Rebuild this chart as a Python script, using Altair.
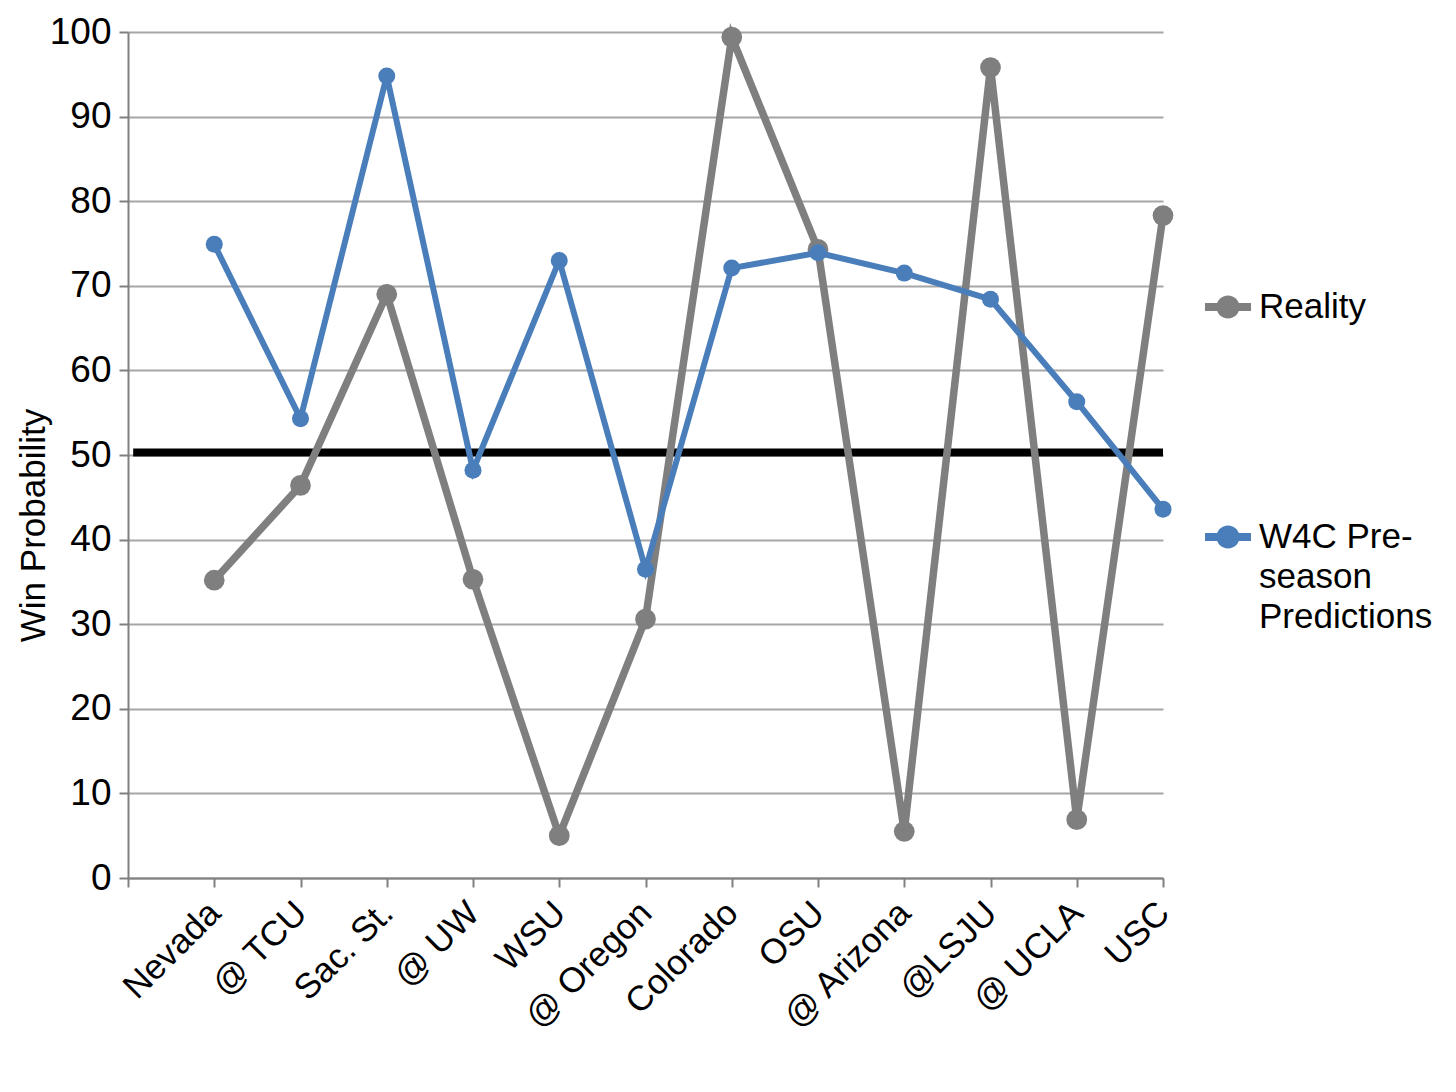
import altair as alt
import pandas as pd

categories = ["Nevada", "@ TCU", "Sac. St.", "@ UW", "WSU", "@ Oregon",
              "Colorado", "OSU", "@ Arizona", "@LSJU", "@ UCLA", "USC"]
reality = [35.2, 46.4, 69.0, 35.3, 5.0, 30.6, 99.4, 74.3, 5.5, 95.8, 6.9, 78.3]
w4c = [74.9, 54.3, 94.8, 48.2, 73.0, 36.5, 72.1, 73.9, 71.5, 68.4, 56.3, 43.6]
series_names = ["Reality", "W4C Pre-season Predictions"]
series_colors = ["#7f7f7f", "#4a7ebb"]
threshold = [50.3]
threshold_span = [0.06, 12]

rows = []
for i, c in enumerate(categories):
    rows.append({"idx": i + 1, "cat": c, "series": series_names[0], "value": reality[i]})
for i, c in enumerate(categories):
    rows.append({"idx": i + 1, "cat": c, "series": series_names[1], "value": w4c[i]})
df = pd.DataFrame(rows)
rule_df = pd.DataFrame({"x": [threshold_span[0]], "x2": [threshold_span[1]], "y": threshold})

label_map = "{" + ", ".join(f"{i+1}: '{c}'" for i, c in enumerate(categories)) + "}"
label_expr = f"({label_map})[datum.value] || ''"

FONT = "Liberation Sans"

xscale = alt.Scale(domain=[0, 12], nice=False, zero=False)
yscale = alt.Scale(domain=[0, 100], nice=False)

xaxis = alt.Axis(values=list(range(0, 13)), labelExpr=label_expr, labelAngle=-45,
                 labelAlign="right", labelBaseline="middle", labelFontSize=35,
                 labelFont=FONT, labelColor="black", labelPadding=20, labelOverlap=False,
                 grid=False, tickSize=9, tickColor="#808080", tickWidth=2,
                 domainColor="#808080", domainWidth=2, title=None)
yaxis = alt.Axis(values=list(range(0, 101, 10)), labelFontSize=37, labelFont=FONT,
                 labelColor="black", labelPadding=8, grid=True, gridColor="#a6a6a6",
                 gridWidth=2, tickSize=9, tickColor="#808080", tickWidth=2,
                 domainColor="#808080", domainWidth=2, title="Win Probability",
                 titleFont=FONT, titleFontSize=35, titleFontWeight="normal",
                 titleColor="black", titleX=-95, titleY=493, titleBaseline="middle",
                 titleAlign="center", titleAngle=270)

color_scale = alt.Scale(domain=series_names, range=series_colors)

sym_path = ("M-1,-0.17 H-0.45 V0.17 H-1 Z M0.45,-0.17 H1 V0.17 H0.45 Z "
            "M0.5,0 A0.5,0.5 0 1,1 -0.5,0 A0.5,0.5 0 1,1 0.5,0 Z")

legend = alt.Legend(title=None, orient="none", legendX=1077, legendY=252,
                    symbolType=sym_path, symbolSize=2116, symbolStrokeWidth=0,
                    labelFont=FONT, labelFontSize=35, labelColor="black",
                    labelLimit=400, rowPadding=189, labelOffset=8,
                    labelExpr="datum.label == 'Reality' ? 'Reality' : ['W4C Pre-', 'season', 'Predictions']")

rule = alt.Chart(rule_df).mark_rule(color="black", strokeWidth=8, strokeCap="butt").encode(
    x=alt.X("x:Q", scale=xscale, axis=xaxis),
    x2="x2:Q",
    y=alt.Y("y:Q", scale=yscale, axis=yaxis),
)

base = alt.Chart(df)

gray_line = base.transform_filter(alt.datum.series == series_names[0]).mark_line(strokeWidth=7.5).encode(
    x=alt.X("idx:Q", scale=xscale, axis=xaxis),
    y=alt.Y("value:Q", scale=yscale, axis=yaxis),
    color=alt.Color("series:N", scale=color_scale, legend=legend),
)
gray_pts = base.transform_filter(alt.datum.series == series_names[0]).mark_point(
    filled=True, size=430, opacity=1).encode(
    x=alt.X("idx:Q", scale=xscale, axis=xaxis),
    y=alt.Y("value:Q", scale=yscale, axis=yaxis),
    color=alt.Color("series:N", scale=color_scale, legend=legend),
)
blue_line = base.transform_filter(alt.datum.series == series_names[1]).mark_line(strokeWidth=6).encode(
    x=alt.X("idx:Q", scale=xscale, axis=xaxis),
    y=alt.Y("value:Q", scale=yscale, axis=yaxis),
    color=alt.Color("series:N", scale=color_scale, legend=legend),
)
blue_pts = base.transform_filter(alt.datum.series == series_names[1]).mark_point(
    filled=True, size=290, opacity=1).encode(
    x=alt.X("idx:Q", scale=xscale, axis=xaxis),
    y=alt.Y("value:Q", scale=yscale, axis=yaxis),
    color=alt.Color("series:N", scale=color_scale, legend=legend),
)

chart = alt.layer(rule, gray_line, gray_pts, blue_line, blue_pts).properties(
    width=1035, height=846,
    autosize=alt.AutoSizeParams(type="none"),
    padding={"left": 120, "top": 24, "right": 285, "bottom": 198},
).configure(background="white", style={"guide-label": {"lineHeight": 40}}
).configure_view(stroke=None)

chart.save("out.html", embed_options={"renderer": "svg", "actions": False})
